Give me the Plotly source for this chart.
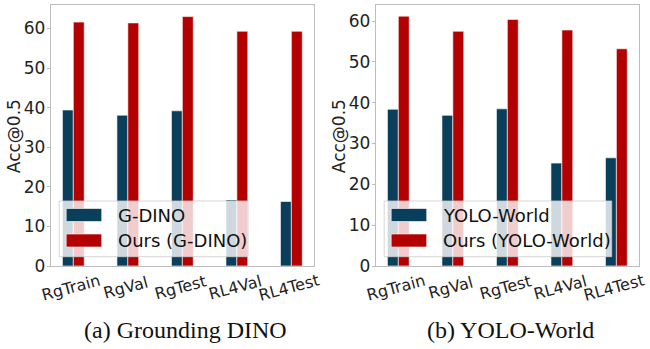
import plotly.graph_objects as go

categories = ["RgTrain", "RgVal", "RgTest", "RL4Val", "RL4Test"]

gdino = [39.4, 38.1, 39.2, 16.7, 16.3]
ours_gdino = [61.6, 61.4, 63.0, 59.3, 59.3]

yolo = [38.4, 36.9, 38.5, 25.2, 26.5]
ours_yolo = [61.2, 57.5, 60.4, 57.8, 53.2]

panels = [
    ("G-DINO", gdino, "Ours (G-DINO)", ours_gdino, "(a) Grounding DINO", 66.0),
    ("YOLO-World", yolo, "Ours (YOLO-World)", ours_yolo, "(b) YOLO-World", 64.0),
]

yticks = [0, 10, 20, 30, 40, 50, 60]

DARK = "#0a3f5c"
RED = "#b30000"
W, H = 650, 349

fig = go.Figure()

x_domains = [[50.7 / W, 314.0 / W], [375.7 / W, 639.0 / W]]
y_domain = [1 - 266.0 / H, 1 - 4.7 / H]
legend_right = [248.0, 611.7]

annotations = []
shapes = []
for i, (n1, v1, n2, v2, cap, ymax) in enumerate(panels):
    xa = "x" if i == 0 else "x2"
    ya = "y" if i == 0 else "y2"
    fig.add_trace(go.Bar(x=categories, y=v1, name=n1, marker_color=DARK,
                         marker_line=dict(color="rgba(255,255,255,0.6)", width=1),
                         xaxis=xa, yaxis=ya, showlegend=False))
    fig.add_trace(go.Bar(x=categories, y=v2, name=n2, marker_color=RED,
                         marker_line=dict(color="rgba(255,255,255,0.6)", width=1),
                         xaxis=xa, yaxis=ya, showlegend=False))
    axsuffix = "" if i == 0 else "2"
    fig.update_layout(**{
        "xaxis" + axsuffix: dict(domain=x_domains[i], range=[-0.415, 4.415],
                                 showticklabels=False, ticks="", showgrid=False,
                                 showline=True, linecolor="#bdbdbd", linewidth=1, mirror=True,
                                 anchor=ya, zeroline=False, automargin=False),
        "yaxis" + axsuffix: dict(domain=y_domain, range=[0, ymax], tickvals=yticks,
                                 ticks="outside", ticklen=3, tickcolor="#bdbdbd",
                                 showgrid=False, showline=True, linecolor="#bdbdbd",
                                 linewidth=1, mirror=True, anchor=xa, zeroline=False,
                                 automargin=False,
                                 tickfont=dict(size=17, color="#222", family="DejaVu Sans"),
                                 ticklabelstandoff=-2),
    })
    x0px = x_domains[i][0] * W
    # x tick labels (rotated)
    for c in categories:
        annotations.append(dict(x=c, xref=xa, y=1 - 287.0 / H, yref="paper", text=c,
                                showarrow=False, textangle=-15, xanchor="center", yanchor="middle",
                                xshift=-2,
                                font=dict(size=16, color="#222", family="DejaVu Sans")))
    # y title
    annotations.append(dict(x=(x0px - 36.5) / W, xref="paper", y=1 - 136.0 / H,
                            yref="paper", text="Acc@0.5", textangle=-90, showarrow=False,
                            xanchor="center", yanchor="middle",
                            font=dict(size=17, color="#222", family="DejaVu Sans")))
    # caption
    annotations.append(dict(x=(x_domains[i][0] + x_domains[i][1]) / 2 + 3.0 / W, xref="paper",
                            y=1 - 330.0 / H, yref="paper", text=cap, showarrow=False,
                            xanchor="center", yanchor="middle",
                            font=dict(size=24, color="#111", family="Liberation Serif")))
    # legend box
    lx0 = x0px + 8.5
    shapes.append(dict(type="rect", xref="paper", yref="paper",
                       x0=lx0 / W, x1=legend_right[i] / W, y0=1 - 256.7 / H, y1=1 - 201.0 / H,
                       fillcolor="rgba(255,255,255,0.8)", line=dict(color="rgba(204,204,204,0.8)", width=1),
                       layer="above"))
    for j, (nm, col, yc) in enumerate([(n1, DARK, 215.0), (n2, RED, 240.5)]):
        shapes.append(dict(type="rect", xref="paper", yref="paper",
                           x0=(x0px + 15.5) / W, x1=(x0px + 51.0) / W,
                           y0=1 - (yc + 6.5) / H, y1=1 - (yc - 6.5) / H,
                           fillcolor=col, line=dict(color="rgba(255,255,255,0.6)", width=1),
                           layer="above"))
        annotations.append(dict(x=(x0px + 65.0) / W, xref="paper", y=1 - yc / H, yref="paper",
                                text=nm, showarrow=False, xanchor="left", yanchor="middle",
                                font=dict(size=18, color="#111", family="DejaVu Sans")))

fig.update_layout(
    width=W, height=H, margin=dict(l=0, r=0, t=0, b=0, autoexpand=False),
    paper_bgcolor="white", plot_bgcolor="white",
    barmode="group", bargap=0.6, bargroupgap=0,
    showlegend=False,
    annotations=annotations, shapes=shapes,
)

post = ("document.documentElement.style.margin='0px';"
        "document.body.style.margin='0px';"
        "document.body.style.padding='0px';"
        "document.documentElement.style.overflow='hidden';"
        "document.body.style.overflow='hidden';")

fig.write_html("out.html", config={"displayModeBar": False}, post_script=post)
